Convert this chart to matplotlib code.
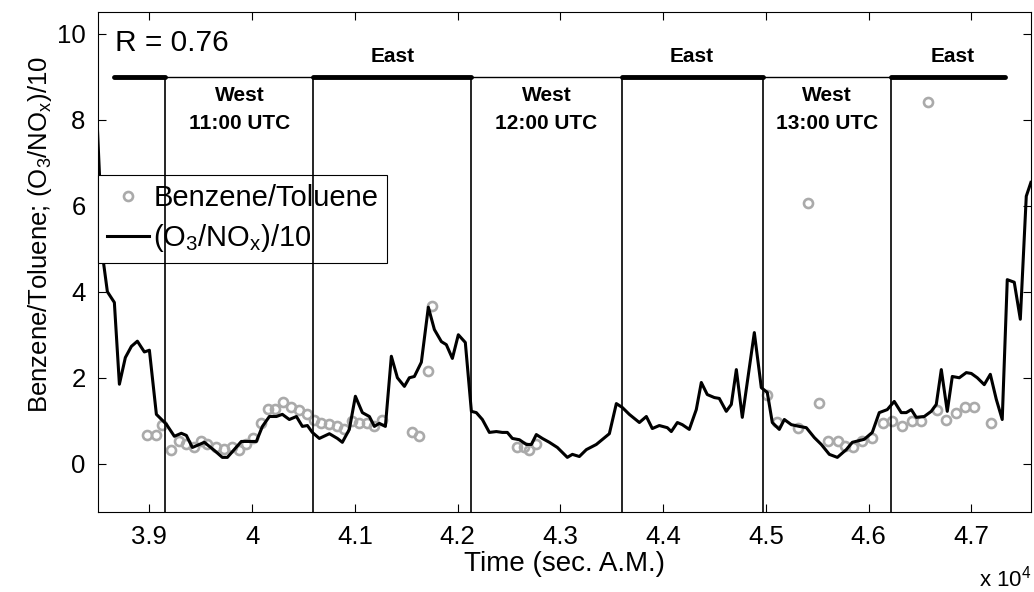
import matplotlib
matplotlib.use("Agg")
import matplotlib.pyplot as plt
from matplotlib.ticker import FixedLocator, FuncFormatter

plt.rcParams['font.family'] = ['Liberation Sans', 'DejaVu Sans']
plt.rcParams['mathtext.fontset'] = 'custom'
plt.rcParams['mathtext.rm'] = 'Liberation Sans'
plt.rcParams['mathtext.it'] = 'Liberation Sans'

# (O3/NOx)/10 line: time (s) and value
line_time = [38494, 38552, 38591, 38659, 38708, 38766, 38825, 38883, 38951, 39000,
             39068, 39165, 39243, 39311, 39360, 39418, 39535, 39633, 39710, 39759,
             39895, 39954, 40041, 40100, 40168, 40236, 40294, 40362, 40431, 40489,
             40538, 40586, 40654, 40752, 40830, 40878, 40946, 41005, 41073, 41141,
             41190, 41238, 41297, 41355, 41414, 41482, 41530, 41579, 41647, 41715,
             41774, 41842, 41890, 41949, 42007, 42075, 42134, 42182, 42241, 42309,
             42377, 42435, 42484, 42533, 42601, 42669, 42718, 42766, 42825, 42893,
             42971, 43068, 43117, 43185, 43253, 43350, 43477, 43545, 43603, 43671,
             43769, 43837, 43895, 43963, 44041, 44080, 44139, 44187, 44255, 44323,
             44372, 44430, 44499, 44547, 44615, 44664, 44713, 44771, 44888, 44956,
             45014, 45063, 45131, 45180, 45248, 45326, 45394, 45472, 45540, 45618,
             45696, 45783, 45842, 45958, 46036, 46104, 46182, 46250, 46318, 46367,
             46416, 46464, 46542, 46610, 46659, 46708, 46766, 46815, 46883, 46951,
             47000, 47058, 47126, 47185, 47243, 47301, 47350, 47418, 47477, 47535,
             47580]
line_value = [7.80, 4.70, 4.00, 3.75, 1.85, 2.47, 2.73, 2.85, 2.60, 2.64,
              1.15, 0.92, 0.64, 0.71, 0.66, 0.38, 0.50, 0.31, 0.15, 0.15,
              0.52, 0.52, 0.52, 0.87, 1.10, 1.10, 1.15, 1.03, 1.10, 0.87,
              0.89, 0.73, 0.59, 0.70, 0.59, 0.50, 0.80, 1.57, 1.19, 1.10,
              0.87, 0.94, 0.87, 2.50, 2.00, 1.80, 2.00, 2.03, 2.36, 3.64,
              3.12, 2.84, 2.77, 2.45, 3.00, 2.82, 1.22, 1.19, 1.03, 0.73,
              0.75, 0.73, 0.73, 0.59, 0.56, 0.45, 0.45, 0.68, 0.59, 0.50,
              0.38, 0.15, 0.22, 0.17, 0.33, 0.45, 0.70, 1.40, 1.31, 1.15,
              0.96, 1.10, 0.82, 0.89, 0.84, 0.75, 0.96, 0.91, 0.80, 1.26,
              1.89, 1.61, 1.54, 1.52, 1.22, 1.38, 2.19, 1.08, 3.05, 1.77,
              1.66, 0.96, 0.80, 1.03, 0.91, 0.87, 0.84, 0.61, 0.45, 0.22,
              0.15, 0.33, 0.50, 0.57, 0.73, 1.19, 1.26, 1.45, 1.19, 1.19,
              1.26, 1.08, 1.10, 1.22, 1.38, 2.19, 1.22, 2.03, 2.00, 2.12,
              2.10, 2.00, 1.84, 2.08, 1.50, 1.03, 4.28, 4.22, 3.36, 6.22,
              6.54]

# Benzene/Toluene points
bt_time = [38981, 39068, 39127, 39214, 39292, 39360, 39438, 39506, 39564, 39652,
           39730, 39808, 39876, 39944, 40012, 40090, 40158, 40226, 40304, 40382,
           40460, 40538, 40606, 40674, 40752, 40830, 40898, 40976, 41044, 41122,
           41190, 41268, 41560, 41628, 41715, 41754, 42581, 42650, 42698, 42766,
           45014, 45110, 45316, 45413, 45521, 45608, 45705, 45774, 45851, 45939,
           46036, 46143, 46231, 46328, 46426, 46513, 46581, 46669, 46756, 46853,
           46941, 47029, 47194]
bt_value = [0.68, 0.66, 0.90, 0.31, 0.52, 0.47, 0.40, 0.52, 0.45, 0.40,
            0.35, 0.38, 0.33, 0.45, 0.59, 0.96, 1.28, 1.28, 1.43, 1.33,
            1.24, 1.15, 1.01, 0.96, 0.92, 0.89, 0.80, 0.99, 0.96, 0.96,
            0.89, 1.03, 0.73, 0.64, 2.15, 3.66, 0.38, 0.38, 0.33, 0.47,
            1.61, 0.97, 0.84, 6.07, 1.42, 0.52, 0.54, 0.42, 0.40, 0.52,
            0.61, 0.96, 0.99, 0.89, 0.99, 0.99, 8.40, 1.26, 1.03, 1.19,
            1.33, 1.31, 0.94]

# Wind sector boundaries (s)
boundaries = [39156, 40597, 42135, 43596, 44969, 46215]
sector_start = 38660
sector_end = 47325
sector_level = 9.0
east_labels = ["East", "East", "East"]
west_labels = ["West", "West", "West"]
utc_labels = ["11:00 UTC", "12:00 UTC", "13:00 UTC"]
r_text = "R = 0.76"

x_ticks = [39000, 40000, 41000, 42000, 43000, 44000, 45000, 46000, 47000]
y_ticks = [0, 2, 4, 6, 8, 10]

fig = plt.figure(figsize=(10.34, 5.92), dpi=100)
ax = fig.add_axes([0.0948, 0.1351, 0.9022, 0.8446])

ax.plot(bt_time, bt_value, linestyle='none', marker='o', markersize=6.5,
        markerfacecolor='none', markeredgecolor='#aaaaaa', markeredgewidth=1.9,
        label='Benzene/Toluene', zorder=3)
ax.plot(line_time, line_value, color='black', linewidth=2.2,
        label='(O$_3$/NO$_x$)/10', zorder=4)

ymin, ymax = -1.12, 10.5
edges = [sector_start] + boundaries + [sector_end]
for i in range(len(edges) - 1):
    east = (i % 2 == 0)
    ax.plot([edges[i], edges[i + 1]], [sector_level, sector_level], color='black',
            linewidth=3.5 if east else 1.0, solid_capstyle='round', zorder=6)
for b in boundaries:
    ax.plot([b, b], [ymin, sector_level], color='black', linewidth=1.2, zorder=6)

east_pos = [(edges[2] + edges[3]) / 2, (edges[4] + edges[5]) / 2, 46820]
west_pos = [(edges[1] + edges[2]) / 2, (edges[3] + edges[4]) / 2, (edges[5] + edges[6]) / 2]
for x, t in zip(east_pos, east_labels):
    ax.text(x, 9.33, t, ha='center', va='baseline', fontsize=15, fontweight='bold', zorder=7)
for x, t, u in zip(west_pos, west_labels, utc_labels):
    ax.text(x, 8.44, t, ha='center', va='baseline', fontsize=15, fontweight='bold', zorder=7)
    ax.text(x, 7.77, u, ha='center', va='baseline', fontsize=15, fontweight='bold', zorder=7)

ax.text(38670, 9.60, r_text, ha='left', va='baseline', fontsize=21.5, zorder=7)

ax.set_xlim(38500, 47580)
ax.set_ylim(ymin, ymax)
ax.xaxis.set_major_locator(FixedLocator(x_ticks))
ax.xaxis.set_major_formatter(FuncFormatter(lambda v, p: f"{v/1e4:g}"))
ax.yaxis.set_major_locator(FixedLocator(y_ticks))
ax.tick_params(direction='in', length=6, width=0.8, top=True, right=True,
               labelsize=18.5, pad=9)
for s in ax.spines.values():
    s.set_linewidth(0.8)

ax.set_xlabel('Time (sec. A.M.)', fontsize=20, labelpad=2)
ax.set_ylabel('Benzene/Toluene; (O$_3$/NO$_x$)/10', fontsize=18.5)
ax.yaxis.set_label_coords(-0.047, 0.554)
fig.text(0.997, 0.009, 'x 10$^4$', fontsize=16, ha='right', va='baseline')

leg = ax.legend(loc='upper left', bbox_to_anchor=(0.0, 0.674), borderaxespad=0,
                fontsize=21, handlelength=1.45, handletextpad=0.15, borderpad=0.3,
                labelspacing=0.35, fancybox=False, edgecolor='black', framealpha=1)
leg.get_frame().set_linewidth(0.8)
leg.set_zorder(5)

fig.savefig('out.png', dpi=100)
